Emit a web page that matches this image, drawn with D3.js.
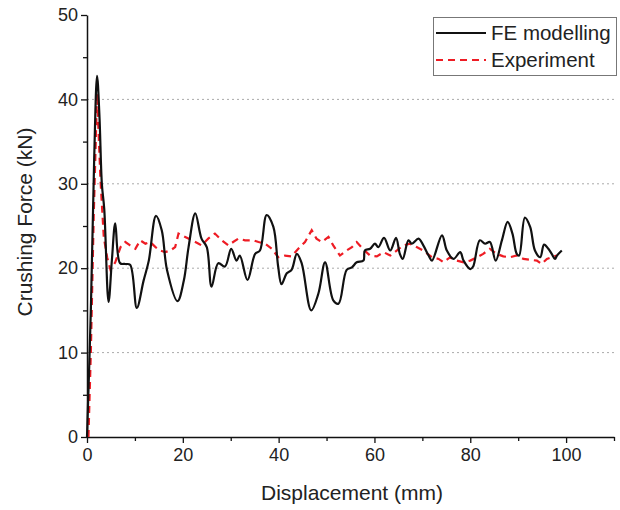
<!DOCTYPE html>
<html>
<head>
<meta charset="utf-8">
<script src="https://cdn.jsdelivr.net/npm/d3@7"></script>
<style>
body { margin: 0; background: #fff; }
svg { font-family: "Liberation Sans", Arial, sans-serif; }
</style>
</head>
<body>
<div id="viz"></div>
<script>
// FE modelling curve: [displacement mm, force kN]
var feDisp = [0, 0.8, 1.5, 2.1, 2.6, 3.1, 3.6, 4.5, 5.2, 5.9, 6.9, 8.0, 9.0, 10.4, 11.8, 12.9, 14.4, 15.6, 16.7, 18.9, 20.2, 21.2, 22.6, 23.9, 25.0, 26.0, 27.4, 28.8, 30.1, 31.2, 31.9, 33.5, 35.1, 36.1, 37.5, 38.9, 39.9, 40.6, 41.7, 42.7, 43.8, 44.8, 46.8, 48.3, 49.7, 51.4, 52.5, 54.2, 55.3, 56.3, 57.7, 58.0, 59.1, 60.1, 60.8, 62.0, 63.3, 64.5, 65.3, 65.9, 67.1, 67.8, 69.2, 70.2, 71.3, 72.0, 74.1, 75.1, 76.5, 77.9, 78.6, 80.0, 80.6, 82.0, 83.1, 84.1, 85.3, 86.6, 87.8, 88.8, 89.7, 90.2, 91.4, 92.5, 93.5, 94.6, 95.4, 96.3, 97.0, 97.7, 98.1, 99.1];
var feForce = [0, 15, 33, 42.8, 38, 30, 27, 16.0, 21, 25.3, 20.6, 20.5, 20.4, 15.3, 18.5, 20.9, 26.2, 24.5, 19.8, 16.1, 18.5, 22.5, 26.5, 23.5, 22.5, 17.8, 20.6, 20.2, 22.3, 20.9, 21.5, 18.6, 21.7, 22.1, 26.3, 24.9, 20.2, 18.1, 19.4, 19.8, 21.7, 20.6, 15.0, 17.0, 20.7, 16.2, 15.8, 19.8, 20.1, 20.7, 20.9, 22.1, 22.3, 22.9, 22.5, 23.6, 22.1, 23.6, 21.7, 21.1, 23.3, 22.9, 23.5, 22.7, 21.5, 20.9, 23.9, 22.1, 21.1, 21.9, 20.9, 19.9, 20.2, 23.3, 22.9, 23.1, 20.9, 23.3, 25.5, 24.1, 21.7, 21.5, 26.0, 24.9, 22.1, 21.3, 22.8, 22.3, 21.7, 21.1, 21.5, 22.1];

// Experiment curve
var expDisp = [0.3, 0.8, 1.4, 2.1, 2.8, 3.5, 4.2, 4.9, 5.9, 7.0, 8.0, 9.0, 10.1, 11.1, 12.2, 13.2, 14.3, 15.3, 16.3, 17.4, 18.4, 19.1, 20.5, 21.9, 23.3, 23.9, 25.3, 26.7, 28.1, 29.5, 30.5, 31.6, 33.0, 34.7, 35.8, 37.2, 38.6, 39.9, 41.3, 42.7, 44.1, 45.5, 46.9, 47.9, 49.0, 50.4, 51.4, 52.8, 54.2, 55.3, 56.3, 57.7, 59.1, 60.5, 61.9, 63.3, 64.7, 66.0, 67.4, 68.8, 70.2, 72.0, 73.4, 74.4, 75.8, 77.2, 78.6, 80.0, 81.4, 82.7, 84.1, 85.5, 86.9, 88.3, 89.7, 91.1, 92.5, 93.9, 94.9, 96.0, 97.0, 98.1];
var expForce = [0, 10, 26.1, 40.7, 30.6, 23.7, 21.3, 19.8, 20.7, 22.5, 23.1, 22.7, 22.3, 23.3, 22.9, 23.1, 22.5, 22.1, 21.9, 22.1, 22.5, 24.1, 23.7, 23.3, 22.9, 22.7, 23.5, 24.1, 23.3, 22.7, 23.1, 23.5, 23.3, 23.3, 23.1, 22.9, 22.3, 21.3, 21.5, 21.4, 22.3, 23.1, 24.5, 23.5, 23.1, 23.7, 22.7, 21.5, 22.1, 22.5, 23.1, 22.2, 21.5, 21.4, 21.9, 21.5, 22.1, 22.7, 22.9, 22.5, 22.1, 21.3, 21.1, 20.7, 21.3, 20.9, 20.7, 20.9, 21.3, 21.7, 22.3, 21.7, 21.4, 21.3, 21.5, 21.1, 21.0, 20.9, 20.5, 21.1, 21.3, 21.5];

var xTicks = [0, 20, 40, 60, 80, 100];
var xMinor = [10, 30, 50, 70, 90, 110];
var yTicks = [0, 10, 20, 30, 40, 50];
var yMinor = [5, 15, 25, 35, 45];
var gridVals = [10, 20, 30, 40];
var names = ["FE modelling", "Experiment"];

var W = 620, H = 510;
var pLeft = 87, pTop = 15, pRight = 614, pBottom = 437;

var svg = d3.select("#viz").append("svg")
	.attr("width", W)
	.attr("height", H);

var x = d3.scaleLinear().domain([0, 110]).range([pLeft, pRight]);
var y = d3.scaleLinear().domain([0, 50]).range([pBottom, pTop]);

// gridlines
svg.append("g").selectAll("line").data(gridVals).enter().append("line")
	.attr("x1", pLeft)
	.attr("x2", pRight)
	.attr("y1", function(d) {return y(d);})
	.attr("y2", function(d) {return y(d);})
	.attr("stroke", "#aaa")
	.attr("stroke-width", 1)
	.attr("stroke-dasharray", "2,3");

// axes
svg.append("g")
	.attr("transform", "translate(0," + pBottom + ")")
	.call(d3.axisBottom(x).tickValues(xTicks).tickSize(6).tickPadding(5).tickSizeOuter(0));
svg.append("g")
	.attr("transform", "translate(0," + pBottom + ")")
	.call(d3.axisBottom(x).tickValues(xMinor).tickSize(4).tickFormat("").tickSizeOuter(0))
	.select(".domain").remove();

svg.append("g")
	.attr("transform", "translate(" + pLeft + ",0)")
	.call(d3.axisLeft(y).tickValues(yTicks).tickSize(6).tickPadding(3).tickSizeOuter(0));
svg.append("g")
	.attr("transform", "translate(" + pLeft + ",0)")
	.call(d3.axisLeft(y).tickValues(yMinor).tickSize(4).tickFormat("").tickSizeOuter(0))
	.select(".domain").remove();

svg.selectAll(".domain").attr("stroke", "#111").attr("stroke-width", 1.5);
svg.selectAll(".tick line").attr("stroke", "#111").attr("stroke-width", 1.3);
svg.selectAll(".tick text")
	.style("font-size", "18px")
	.style("font-family", "Liberation Sans, Arial, sans-serif")
	.attr("fill", "#222");

// curves
var feData = feDisp.map(function(d, i) {return [d, feForce[i]];});
var expData = expDisp.map(function(d, i) {return [d, expForce[i]];});

var smooth = d3.line()
	.x(function(d) {return x(d[0]);})
	.y(function(d) {return y(d[1]);})
	.curve(d3.curveCatmullRom.alpha(0.5));

var jag = d3.line()
	.x(function(d) {return x(d[0]);})
	.y(function(d) {return y(d[1]);});

svg.append("path").datum(expData)
	.attr("d", jag)
	.attr("fill", "none")
	.attr("stroke", "#ee1c24")
	.attr("stroke-width", 2.2)
	.attr("stroke-dasharray", "7,5");

svg.append("path").datum(feData)
	.attr("d", smooth)
	.attr("fill", "none")
	.attr("stroke", "#111")
	.attr("stroke-width", 2.2);

// axis titles
svg.append("text")
	.attr("x", 352)
	.attr("y", 500)
	.attr("text-anchor", "middle")
	.style("font-size", "21px")
	.attr("fill", "#222")
	.text("Displacement (mm)");

svg.append("text")
	.attr("transform", "translate(32," + 222 + ") rotate(-90)")
	.attr("text-anchor", "middle")
	.style("font-size", "21px")
	.attr("fill", "#222")
	.text("Crushing Force (kN)");

// legend
var legend = svg.append("g");
legend.append("rect")
	.attr("x", 433.5)
	.attr("y", 17.5)
	.attr("width", 183)
	.attr("height", 58)
	.attr("fill", "#fff")
	.attr("stroke", "#777")
	.attr("stroke-width", 1);

var colors = ["#111", "#ee1c24"];
var dashes = [null, "7,5"];
legend.selectAll("line").data(names).enter().append("line")
	.attr("x1", 436)
	.attr("x2", 486)
	.attr("y1", function(d, i) {return 33 + i * 27;})
	.attr("y2", function(d, i) {return 33 + i * 27;})
	.attr("stroke", function(d, i) {return colors[i];})
	.attr("stroke-width", 2.2)
	.attr("stroke-dasharray", function(d, i) {return dashes[i];});

legend.selectAll("text").data(names).enter().append("text")
	.attr("x", 491)
	.attr("y", function(d, i) {return 40 + i * 27;})
	.style("font-size", "20.5px")
	.attr("fill", "#222")
	.text(function(d) {return d;});
</script>
</body>
</html>
